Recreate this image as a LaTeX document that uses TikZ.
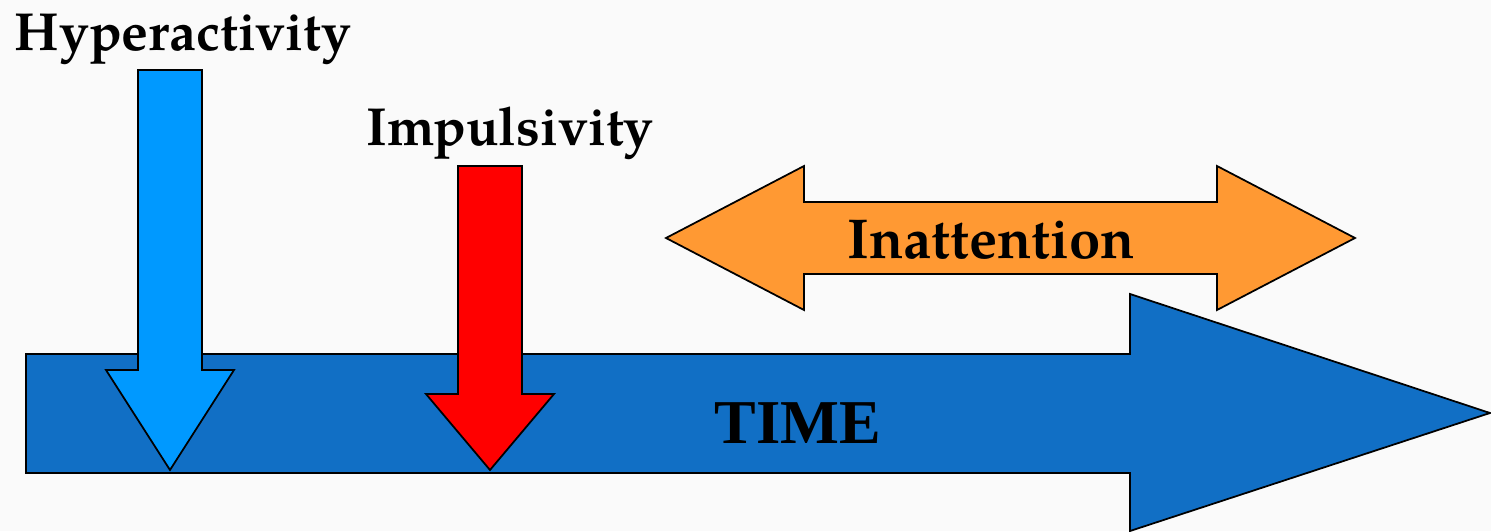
\documentclass[tikz,border=0pt]{standalone}
\usepackage{fontspec}
\usepackage{tikz}
\usetikzlibrary{positioning,calc}
\newfontfamily\labelfont{texgyrepagella}[Extension=.otf, UprightFont=*-regular, BoldFont=*-bold]
\newfontfamily\timefont{Liberation Serif}
\definecolor{timeblue}{HTML}{116FC5}
\definecolor{hyperblue}{HTML}{0099FF}
\definecolor{impred}{HTML}{FF0000}
\definecolor{inattorange}{HTML}{FF9933}

\begin{document}
\begin{tikzpicture}[
        x=0.02cm, y=-0.02cm,
        arrowshape/.style={draw=black, line width=1pt, line join=miter},
        tag/.style={font=\labelfont\bfseries\fontsize{30.5}{36}\selectfont, anchor=base, inner sep=0pt}
    ]

    % Background
    \fill[white!98!black] (0,0) rectangle (1491,531);
    \useasboundingbox (0,0) rectangle (1491,531);

    % Time arrow
    \draw[arrowshape, fill=timeblue] (26,354) -- (1130,354) -- (1130,294) -- (1490,413)
        -- (1130,531) -- (1130,473) -- (26,473) -- cycle;

    % Down arrows
    \draw[arrowshape, fill=hyperblue] (138,70) -- (202,70) -- (202,370) -- (234,370)
        -- (170,470) -- (106,370) -- (138,370) -- cycle;
    \draw[arrowshape, fill=impred] (458,166) -- (522,166) -- (522,394) -- (554,394)
        -- (490,470) -- (426,394) -- (458,394) -- cycle;

    % Double arrow
    \draw[arrowshape, fill=inattorange] (666,238) -- (804,166) -- (804,202) -- (1217,202)
        -- (1217,166) -- (1355,238) -- (1217,310) -- (1217,274) -- (804,274)
        -- (804,310) -- cycle;

    % Labels
    \node[tag] (hyper) at (183,50) {Hyperactivity};
    \node[tag] (impuls) at (510,145) {Impulsivity};
    \node[tag, font=\labelfont\bfseries\fontsize{32}{38}\selectfont] (inatt) at (991,258) {Inattention};
    \node[tag, font=\timefont\bfseries\fontsize{35.5}{42}\selectfont] (time) at (798,443) {TIME};

\end{tikzpicture}
\end{document}
